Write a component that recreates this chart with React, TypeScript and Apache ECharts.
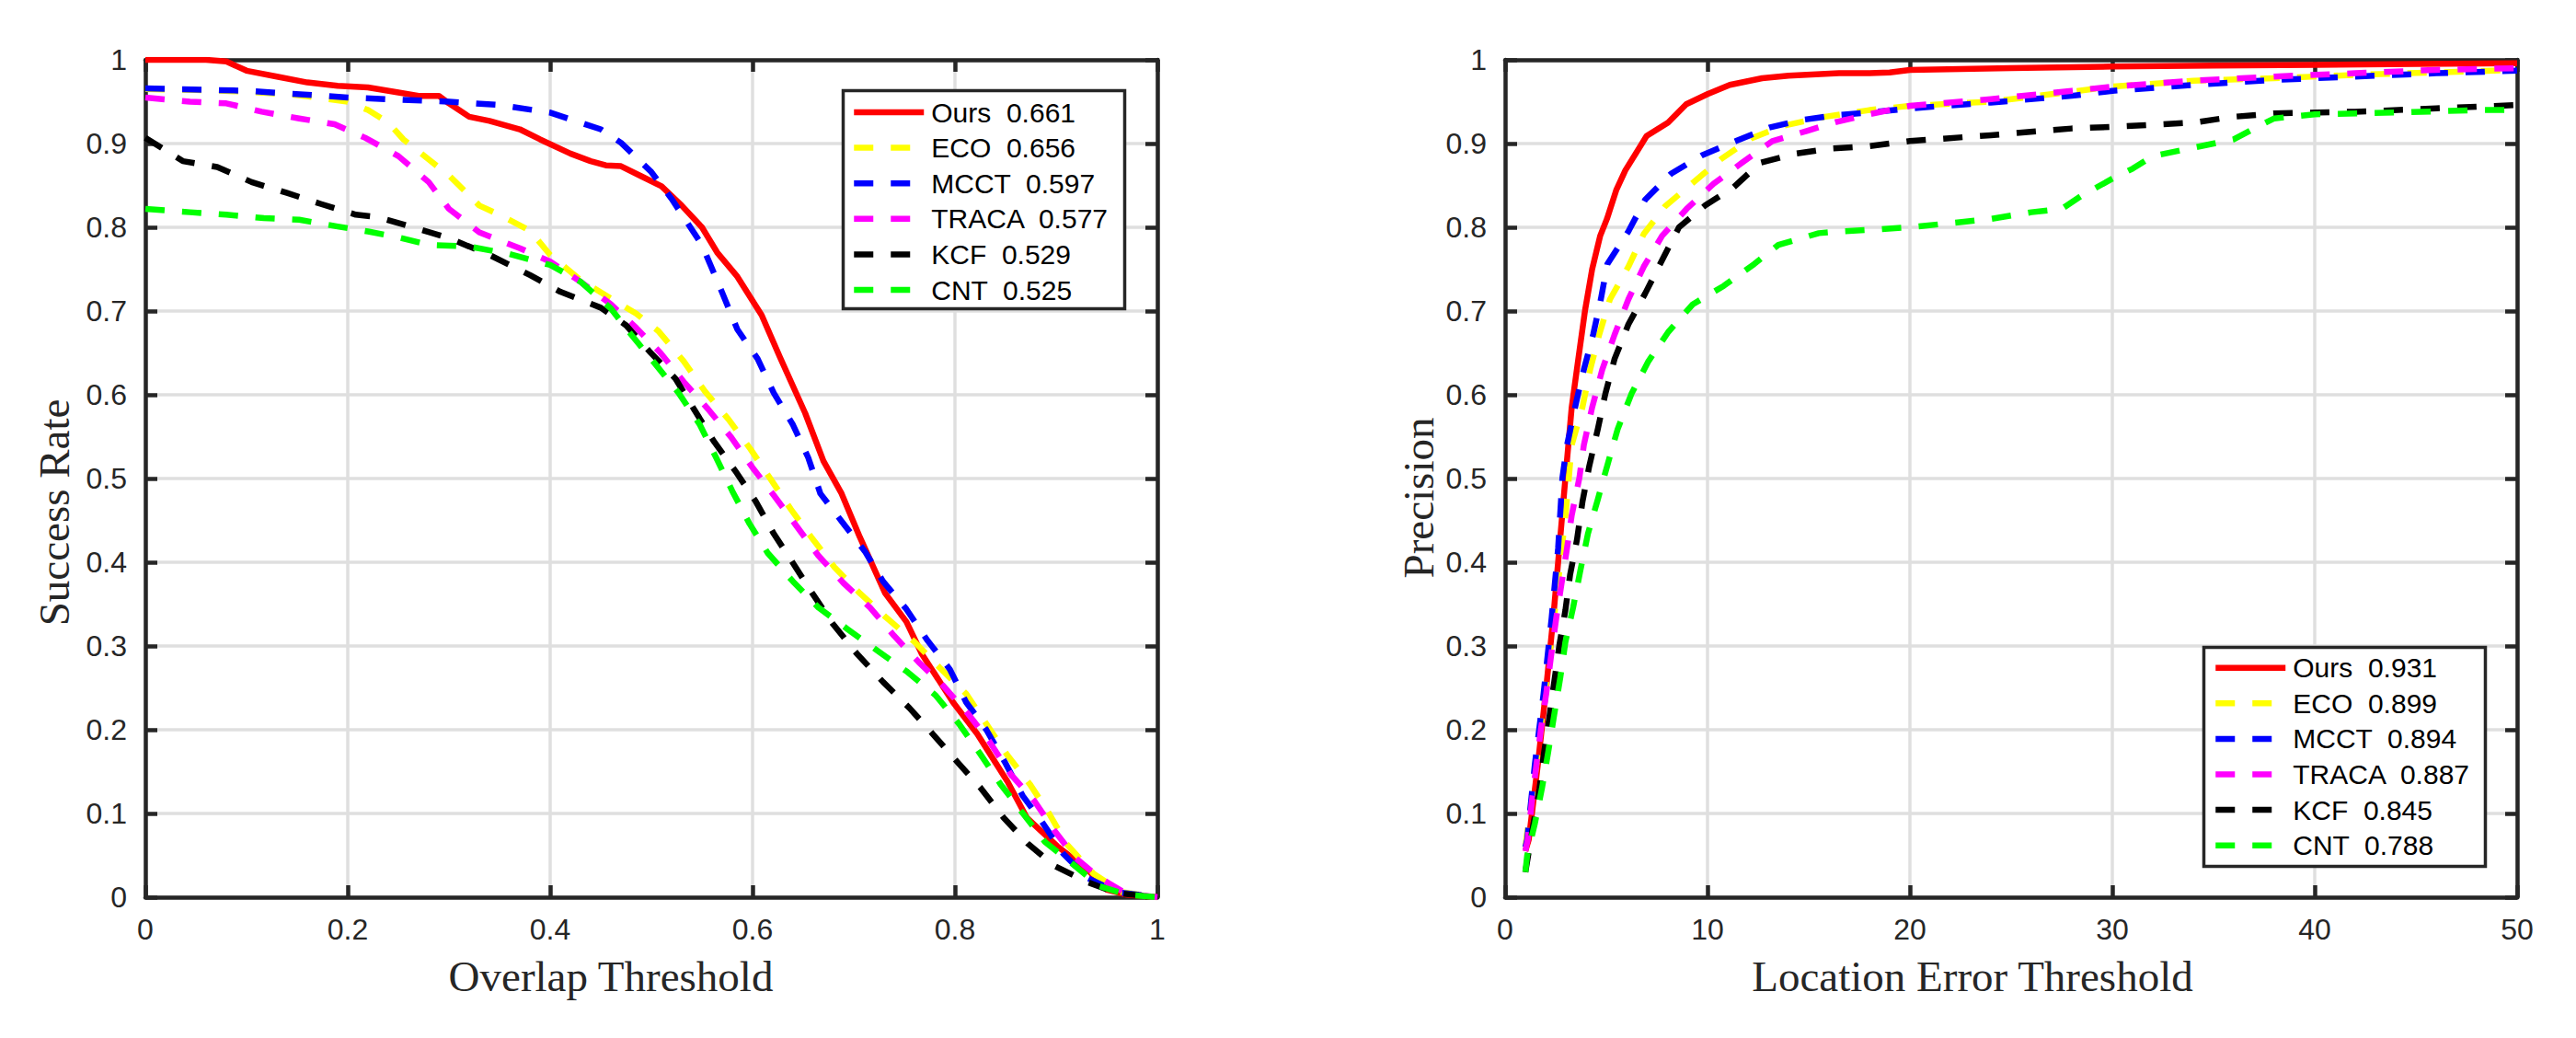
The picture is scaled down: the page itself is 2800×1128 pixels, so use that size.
import React, { useEffect, useRef } from "react";
import * as echarts from "echarts";

// ---------- data ----------
const methods = ["Ours", "ECO", "MCCT", "TRACA", "KCF", "CNT"];
const colors = ["#ff0000", "#ffff00", "#0000ff", "#ff00ff", "#000000", "#00ff00"];
const successScores = ["0.661", "0.656", "0.597", "0.577", "0.529", "0.525"];
const precisionScores = ["0.931", "0.899", "0.894", "0.887", "0.845", "0.788"];

// Success plot: [overlap threshold, success rate]
const successOurs = [[0,1],[0.06,1],[0.08,0.998],[0.1,0.987],[0.13,0.98],[0.16,0.973],[0.19,0.969],[0.22,0.967],[0.25,0.961],[0.27,0.957],[0.29,0.957],[0.3,0.948],[0.32,0.932],[0.34,0.927],[0.37,0.917],[0.39,0.905],[0.42,0.888],[0.44,0.879],[0.455,0.874],[0.47,0.873],[0.49,0.861],[0.51,0.849],[0.53,0.826],[0.55,0.8],[0.565,0.77],[0.585,0.741],[0.609,0.695],[0.627,0.645],[0.652,0.578],[0.67,0.521],[0.688,0.482],[0.706,0.43],[0.731,0.363],[0.752,0.329],[0.767,0.291],[0.798,0.233],[0.822,0.195],[0.852,0.138],[0.871,0.095],[0.901,0.061],[0.931,0.033],[0.95,0.009],[0.97,0.003],[1,0]];
const successECO = [[0,0.965],[0.05,0.964],[0.1,0.962],[0.15,0.958],[0.2,0.95],[0.22,0.94],[0.24,0.925],[0.255,0.905],[0.28,0.881],[0.3,0.862],[0.33,0.826],[0.35,0.815],[0.38,0.796],[0.4,0.767],[0.43,0.737],[0.46,0.715],[0.485,0.697],[0.507,0.676],[0.532,0.64],[0.553,0.604],[0.576,0.571],[0.598,0.535],[0.618,0.499],[0.638,0.463],[0.658,0.43],[0.681,0.394],[0.706,0.363],[0.732,0.334],[0.76,0.305],[0.785,0.274],[0.811,0.243],[0.831,0.207],[0.851,0.171],[0.874,0.135],[0.893,0.1],[0.91,0.064],[0.937,0.028],[0.965,0.006],[1,0]];
const successMCCT = [[0,0.966],[0.1,0.963],[0.2,0.955],[0.3,0.95],[0.35,0.946],[0.4,0.937],[0.45,0.917],[0.47,0.901],[0.5,0.866],[0.52,0.834],[0.55,0.779],[0.57,0.722],[0.585,0.678],[0.605,0.643],[0.621,0.602],[0.64,0.564],[0.655,0.525],[0.667,0.482],[0.688,0.449],[0.711,0.413],[0.729,0.377],[0.752,0.344],[0.772,0.308],[0.795,0.272],[0.811,0.233],[0.831,0.2],[0.849,0.162],[0.867,0.121],[0.886,0.09],[0.907,0.052],[0.931,0.023],[0.96,0.006],[1,0]];
const successTRACA = [[0,0.955],[0.044,0.95],[0.08,0.948],[0.115,0.938],[0.152,0.93],[0.187,0.923],[0.217,0.907],[0.25,0.885],[0.28,0.854],[0.3,0.822],[0.33,0.794],[0.37,0.775],[0.4,0.759],[0.43,0.735],[0.46,0.708],[0.485,0.68],[0.509,0.65],[0.533,0.614],[0.556,0.583],[0.579,0.549],[0.6,0.513],[0.621,0.48],[0.643,0.444],[0.665,0.408],[0.69,0.375],[0.716,0.346],[0.74,0.312],[0.764,0.281],[0.788,0.253],[0.813,0.219],[0.834,0.186],[0.855,0.147],[0.879,0.114],[0.898,0.08],[0.919,0.047],[0.943,0.023],[0.97,0.004],[1,0]];
const successKCF = [[0,0.907],[0.037,0.879],[0.071,0.872],[0.105,0.854],[0.14,0.841],[0.173,0.828],[0.208,0.815],[0.23,0.812],[0.27,0.798],[0.3,0.787],[0.34,0.767],[0.38,0.743],[0.41,0.723],[0.45,0.704],[0.475,0.683],[0.498,0.652],[0.524,0.619],[0.542,0.583],[0.562,0.544],[0.583,0.509],[0.603,0.473],[0.621,0.434],[0.64,0.399],[0.659,0.363],[0.679,0.327],[0.703,0.291],[0.729,0.257],[0.755,0.226],[0.778,0.195],[0.802,0.162],[0.825,0.131],[0.848,0.095],[0.872,0.064],[0.899,0.037],[0.931,0.018],[0.96,0.005],[1,0]];
const successCNT = [[0,0.822],[0.044,0.818],[0.08,0.815],[0.117,0.811],[0.152,0.809],[0.19,0.801],[0.22,0.795],[0.25,0.788],[0.28,0.779],[0.32,0.777],[0.36,0.768],[0.4,0.755],[0.43,0.735],[0.46,0.703],[0.48,0.672],[0.503,0.638],[0.527,0.602],[0.548,0.564],[0.564,0.525],[0.58,0.485],[0.597,0.446],[0.615,0.411],[0.64,0.377],[0.665,0.346],[0.694,0.32],[0.725,0.293],[0.753,0.269],[0.781,0.241],[0.804,0.207],[0.825,0.171],[0.845,0.135],[0.866,0.102],[0.889,0.066],[0.916,0.04],[0.943,0.013],[0.97,0.003],[1,0]];

// Precision plot: [location error threshold, precision]
const precisionOurs = [[1,0.055],[1.17,0.069],[1.62,0.159],[2,0.243],[2.38,0.334],[2.68,0.417],[2.98,0.501],[3.29,0.585],[3.6,0.64],[3.95,0.701],[4.3,0.75],[4.7,0.79],[5.03,0.81],[5.5,0.845],[5.94,0.868],[6.99,0.909],[8.05,0.925],[8.95,0.947],[10,0.959],[11.1,0.97],[12.7,0.978],[14,0.981],[16.5,0.984],[18,0.984],[19,0.985],[20,0.988],[25,0.99],[30,0.992],[35,0.993],[40,0.994],[45,0.995],[50,0.996]];
const precisionECO = [[1,0.06],[1.5,0.15],[2,0.25],[2.5,0.35],[3,0.46],[3.29,0.54],[3.82,0.585],[4.2,0.63],[4.65,0.672],[5.18,0.714],[6.09,0.753],[6.85,0.792],[7.9,0.825],[9.27,0.853],[10.7,0.882],[12.15,0.906],[13.7,0.921],[15.8,0.932],[18,0.94],[20,0.945],[24,0.95],[28,0.962],[30,0.968],[34,0.975],[38,0.978],[42,0.982],[46,0.985],[50,0.988]];
const precisionMCCT = [[1,0.06],[1.09,0.069],[1.47,0.159],[1.9,0.243],[2.3,0.334],[2.62,0.417],[2.83,0.501],[3.06,0.54],[3.52,0.592],[3.89,0.63],[4.35,0.672],[4.73,0.714],[5.05,0.756],[6.09,0.795],[6.92,0.833],[8.2,0.864],[9.73,0.886],[11.4,0.903],[13.05,0.919],[14.6,0.928],[16.4,0.934],[18,0.937],[20,0.942],[24,0.949],[28,0.957],[30,0.963],[34,0.97],[38,0.976],[42,0.98],[46,0.984],[50,0.987]];
const precisionTRACA = [[1,0.055],[1.12,0.069],[1.32,0.114],[1.55,0.159],[1.77,0.201],[2.03,0.243],[2.27,0.288],[2.53,0.334],[2.79,0.375],[3.06,0.417],[3.29,0.456],[3.67,0.501],[3.89,0.54],[4.3,0.585],[4.8,0.63],[5.41,0.672],[6.09,0.714],[6.85,0.753],[7.76,0.79],[8.97,0.822],[10.3,0.852],[11.7,0.877],[13.2,0.903],[14.9,0.915],[16.4,0.926],[18,0.935],[20,0.945],[24,0.953],[28,0.963],[30,0.968],[34,0.975],[38,0.98],[42,0.984],[46,0.988],[50,0.99]];
const precisionKCF = [[1,0.03],[1.36,0.082],[1.7,0.13],[1.92,0.172],[2.18,0.214],[2.42,0.256],[2.68,0.301],[2.98,0.343],[3.21,0.385],[3.55,0.427],[3.82,0.472],[4.15,0.514],[4.58,0.559],[4.95,0.601],[5.41,0.643],[6.09,0.684],[6.92,0.721],[7.76,0.761],[8.59,0.8],[9.88,0.826],[11.3,0.848],[12.6,0.877],[14.35,0.888],[16.1,0.894],[18,0.897],[20,0.903],[24,0.91],[28,0.918],[30,0.92],[34,0.925],[36,0.932],[38,0.936],[42,0.938],[46,0.942],[50,0.946]];
const precisionCNT = [[1,0.03],[1.09,0.05],[1.47,0.088],[1.82,0.13],[2.12,0.172],[2.42,0.217],[2.73,0.263],[2.98,0.305],[3.36,0.346],[3.7,0.388],[4.09,0.434],[4.58,0.475],[5.03,0.514],[5.56,0.559],[6.24,0.601],[7.08,0.64],[8.06,0.675],[9.27,0.708],[10.8,0.73],[12.3,0.756],[13.5,0.779],[15.5,0.793],[16.5,0.795],[18,0.797],[20,0.8],[22,0.805],[24,0.81],[26,0.818],[27.5,0.822],[28.5,0.838],[30,0.858],[31,0.87],[32,0.885],[34,0.895],[36,0.905],[37,0.918],[38,0.93],[40,0.935],[44,0.937],[48,0.94],[50,0.94]];

const successData = [successOurs, successECO, successMCCT, successTRACA, successKCF, successCNT];
const precisionData = [precisionOurs, precisionECO, precisionMCCT, precisionTRACA, precisionKCF, precisionCNT];

// ---------- styles ----------
const AXIS_COLOR = "#262626";
const GRID_COLOR = "#dfdfdf";
const SANS = "'Liberation Sans', Arial, Helvetica, sans-serif";
const SERIF = "'Liberation Serif', 'Times New Roman', Times, serif";
const LINE_W = 6.5;
const DASH = [21, 19];

const successNames = methods.map((m, i) => `${m}  ${successScores[i]}`);
const precisionNames = methods.map((m, i) => `${m}  ${precisionScores[i]}`);

function makeSeries(data: number[][][], names: string[], axisIdx: number) {
  return data.map((d, i) => ({
    type: "line",
    name: names[i],
    xAxisIndex: axisIdx,
    yAxisIndex: axisIdx,
    data: d,
    symbol: "none",
    showSymbol: false,
    smooth: false,
    silent: true,
    z: 3 + i,
    itemStyle: { color: colors[i] },
    lineStyle: {
      color: colors[i],
      width: LINE_W,
      type: i === 0 ? "solid" : DASH,
      cap: "butt",
      join: "round",
    },
  }));
}

function mainX(grid: number, min: number, max: number, interval: number, name: string, pad: number) {
  return {
    type: "value",
    gridIndex: grid,
    position: "bottom",
    min,
    max,
    interval,
    name,
    nameLocation: "middle",
    nameGap: 62,
    nameTextStyle: { fontFamily: SERIF, fontSize: 47, color: AXIS_COLOR, padding: [0, pad, 0, 0] },
    axisLine: { show: true, onZero: false, lineStyle: { color: AXIS_COLOR, width: 4.5 } },
    axisTick: { show: true, inside: true, length: 13, lineStyle: { color: AXIS_COLOR, width: 4.5 } },
    axisLabel: { show: true, margin: 19, fontFamily: SANS, fontSize: 32, color: AXIS_COLOR },
    splitLine: { show: true, lineStyle: { color: GRID_COLOR, width: 3.5 } },
  };
}
function topX(grid: number, min: number, max: number, interval: number) {
  return {
    type: "value",
    gridIndex: grid,
    position: "top",
    min,
    max,
    interval,
    axisLine: { show: true, onZero: false, lineStyle: { color: AXIS_COLOR, width: 4.5 } },
    axisTick: { show: true, inside: true, length: 13, lineStyle: { color: AXIS_COLOR, width: 4.5 } },
    axisLabel: { show: false },
    splitLine: { show: false },
  };
}
function mainY(grid: number, name: string, gap: number, pad: number) {
  return {
    type: "value",
    gridIndex: grid,
    position: "left",
    min: 0,
    max: 1,
    interval: 0.1,
    name,
    nameLocation: "middle",
    nameGap: gap,
    nameRotate: 90,
    nameTextStyle: { fontFamily: SERIF, fontSize: 47, color: AXIS_COLOR, padding: [0, pad, 0, 0] },
    axisLine: { show: true, onZero: false, lineStyle: { color: AXIS_COLOR, width: 4.5 } },
    axisTick: { show: true, inside: true, length: 13, lineStyle: { color: AXIS_COLOR, width: 4.5 } },
    axisLabel: { show: true, margin: 20, fontFamily: SANS, fontSize: 32, color: AXIS_COLOR },
    splitLine: { show: true, lineStyle: { color: GRID_COLOR, width: 3.5 } },
  };
}
function rightY(grid: number) {
  return {
    type: "value",
    gridIndex: grid,
    position: "right",
    min: 0,
    max: 1,
    interval: 0.1,
    axisLine: { show: true, onZero: false, lineStyle: { color: AXIS_COLOR, width: 4.5 } },
    axisTick: { show: true, inside: true, length: 13, lineStyle: { color: AXIS_COLOR, width: 4.5 } },
    axisLabel: { show: false },
    splitLine: { show: false },
  };
}

function makeLegend(names: string[], left: number, top: number) {
  return {
    data: names.map((n, i) => ({
      name: n,
      itemStyle: { opacity: 0 },
      lineStyle: {
        color: colors[i],
        width: LINE_W,
        type: i === 0 ? "solid" : DASH,
        cap: "butt",
        opacity: 1,
      },
    })),
    orient: "vertical",
    left,
    top,
    padding: 0,
    itemWidth: 76,
    itemHeight: 14,
    itemGap: 8.6,
    align: "left",
    selectedMode: false,
    z: 60,
    itemStyle: { opacity: 0 },
    lineStyle: { width: LINE_W },
    textStyle: { fontFamily: SANS, fontSize: 30, color: "#000000", lineHeight: 30, padding: [0, 0, 0, 3] },
  };
}

function legendBox(x: number, y: number, w: number, h: number) {
  return {
    type: "rect",
    z: 50,
    shape: { x, y, width: w, height: h },
    style: { fill: "#ffffff", stroke: AXIS_COLOR, lineWidth: 3.5 },
    silent: true,
  };
}

export default function App() {
  const ref = useRef<HTMLDivElement>(null);
  useEffect(() => {
    if (!ref.current) return;
    const chart = echarts.init(ref.current, null, { renderer: "svg" });
    chart.setOption({
      animation: false,
      backgroundColor: "#ffffff",
      grid: [
        { left: 158, top: 65, width: 1100, height: 910, containLabel: false },
        { left: 1636, top: 65, width: 1100, height: 910, containLabel: false },
      ],
      xAxis: [
        mainX(0, 0, 1, 0.2, "Overlap Threshold", 88),
        topX(0, 0, 1, 0.2),
        mainX(1, 0, 50, 10, "Location Error Threshold", 84),
        topX(1, 0, 50, 10),
      ],
      yAxis: [
        mainY(0, "Success Rate", 76, 74),
        rightY(0),
        mainY(1, "Precision", 71, 42),
        rightY(1),
      ],
      legend: [makeLegend(successNames, 925, 107), makeLegend(precisionNames, 2405, 710.7)],
      graphic: {
        elements: [legendBox(916.5, 98.5, 306, 237), legendBox(2395.5, 703.5, 306, 238)],
      },
      series: [...makeSeries(successData, successNames, 0), ...makeSeries(precisionData, precisionNames, 2)],
    });
    return () => chart.dispose();
  }, []);
  return (
    <div
      ref={ref}
      style={{ position: "fixed", left: 0, top: 0, width: 2800, height: 1128, background: "#ffffff" }}
    />
  );
}
